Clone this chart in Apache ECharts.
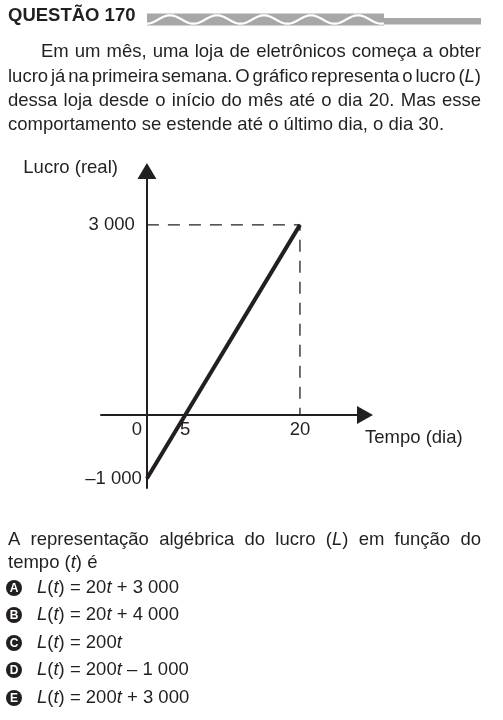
<!DOCTYPE html>
<html>
<head>
<meta charset="utf-8">
<script src="https://cdn.jsdelivr.net/npm/echarts@6/dist/echarts.min.js"></script>
<style>
html,body{margin:0;padding:0;background:#fff;}
#chart{width:503px;height:720px;}
</style>
</head>
<body>
<div id="chart"></div>
<script>
// ---- data ----
const tempo = [0, 20];            // dias
const lucro = [-1000, 3000];      // reais
const xTickValues = [0, 5, 20];
const yTickValues = [-1000, 3000];
const titleText = 'QUESTÃO 170';
const paragraph = [
  'Em um mês, uma loja de eletrônicos começa a obter',
  'lucro já na primeira semana. O gráfico representa o lucro (*L*)',
  'dessa loja desde o início do mês até o dia 20. Mas esse',
  'comportamento se estende até o último dia, o dia 30.'
];
const question = [
  'A representação algébrica do lucro (*L*) em função do',
  'tempo (*t*) é'
];
const optionLetters = ['A', 'B', 'C', 'D', 'E'];
const optionTexts = [
  '*L*(*t*) = 20*t* + 3 000',
  '*L*(*t*) = 20*t* + 4 000',
  '*L*(*t*) = 200*t*',
  '*L*(*t*) = 200*t* – 1 000',
  '*L*(*t*) = 200*t* + 3 000'
];

const FONT = '"Liberation Sans", Arial, Helvetica, sans-serif';
const INK = '#231f20';
const SIZE = 18.5;

const cv = document.createElement('canvas').getContext('2d');
function fontStr(size, italic, bold) {
  return (italic ? 'italic ' : '') + (bold ? 'bold ' : '') + size + 'px ' + FONT;
}
function measure(t, size, italic, bold) {
  cv.font = fontStr(size, italic, bold);
  return cv.measureText(t).width;
}
function textEl(t, x, y, size, italic, bold, fill, align) {
  return {
    type: 'text', x: x, y: y, silent: true,
    style: {
      text: t, font: fontStr(size, italic, bold), fill: fill || INK,
      align: align || 'left', textAlign: align || 'left',
      verticalAlign: 'middle', textVerticalAlign: 'middle'
    }
  };
}
function lineEls(str, x0, x1, y, size, justify) {
  const words = str.split(' ').map(w => {
    const parts = w.split('*').map((p, i) => ({ t: p, it: i % 2 === 1 }))
      .filter(p => p.t.length);
    parts.forEach(p => p.w = measure(p.t, size, p.it, false));
    return { parts: parts, w: parts.reduce((s, p) => s + p.w, 0) };
  });
  const total = words.reduce((s, w) => s + w.w, 0);
  const gap = justify && words.length > 1 ? (x1 - x0 - total) / (words.length - 1)
    : measure(' ', size, false, false);
  const els = [];
  let x = x0;
  words.forEach(w => {
    let px = x;
    w.parts.forEach(p => { els.push(textEl(p.t, px, y, size, p.it, false)); px += p.w; });
    x += w.w + gap;
  });
  return els;
}

// ---- decorative header ----
const graphics = [];
graphics.push(textEl(titleText, 8, 16, SIZE, false, true));
graphics.push({ type: 'rect', silent: true, shape: { x: 147, y: 13.5, width: 237, height: 12 }, style: { fill: '#a7a7a9' } });
graphics.push({ type: 'rect', silent: true, shape: { x: 384, y: 18, width: 97, height: 6.5 }, style: { fill: '#a7a7a9' } });
const wavePts = [];
for (let x = 147; x <= 384; x += 1) {
  wavePts.push([x, 19.5 - 4.2 * Math.cos(2 * Math.PI * (x - 170) / 47)]);
}
graphics.push({ type: 'polyline', silent: true, shape: { points: wavePts }, style: { stroke: '#fff', lineWidth: 2.2, fill: null } });

// ---- text blocks ----
const paraY = [52, 77, 101, 125];
paragraph.forEach((l, i) => {
  graphics.push(...lineEls(l, i === 0 ? 41 : 8, 481, paraY[i], SIZE, i < paragraph.length - 1));
});
const qY = [540, 563];
question.forEach((l, i) => {
  graphics.push(...lineEls(l, 8, 481, qY[i], SIZE, i < question.length - 1));
});
const optY = [588, 615, 643, 670, 698];
optionLetters.forEach((L, i) => {
  graphics.push({ type: 'circle', silent: true, shape: { cx: 14, cy: optY[i], r: 8 }, style: { fill: INK } });
  graphics.push(textEl(L, 14, optY[i] + 0.5, 12, false, true, '#fff', 'center'));
  graphics.push(...lineEls(optionTexts[i], 37, 481, optY[i], SIZE, false));
});

function fmtNum(v) {
  const a = Math.abs(v).toString().replace(/\B(?=(\d{3})+(?!\d))/g, ' ');
  return (v < 0 ? '–' : '') + a;
}

// axis ranges and grid layout
const X_MIN = -6, X_MAX = 28.5, Y_MIN = -1150, Y_MAX = 3850;
const G_LEFT = 101, G_TOP = 171, G_W = 264, G_H = 317;
// offsets that put each axis (with its labels) through the origin
const xAxisOffset = -(0 - Y_MIN) / (Y_MAX - Y_MIN) * G_H;
const yAxisOffset = -(0 - X_MIN) / (X_MAX - X_MIN) * G_W;

const chart = echarts.init(document.getElementById('chart'), null, { renderer: 'canvas' });
chart.setOption({
  animation: false,
  backgroundColor: '#fff',
  graphic: graphics,
  grid: { left: G_LEFT, top: G_TOP, width: G_W, height: G_H, containLabel: false, outerBoundsMode: 'none' },
  xAxis: {
    type: 'value', min: X_MIN, max: X_MAX, position: 'bottom', offset: xAxisOffset,
    name: 'Tempo (dia)', nameLocation: 'end', nameGap: 0,
    nameTextStyle: { color: INK, fontSize: SIZE, fontFamily: FONT, align: 'left', verticalAlign: 'top', padding: [13, 0, 0, 0] },
    axisLine: { onZero: false, lineStyle: { color: INK, width: 2 }, symbol: ['none', 'triangle'], symbolSize: [18, 16] },
    axisTick: { show: false },
    splitLine: { show: false },
    axisLabel: {
      customValues: xTickValues, margin: 5, color: INK, fontSize: SIZE, fontFamily: FONT,
      formatter: v => v === 0 ? '{z|0}' : '{n|' + v + '}',
      rich: {
        z: { fontSize: SIZE, fontFamily: FONT, color: INK, padding: [0, 20, 0, 0] },
        n: { fontSize: SIZE, fontFamily: FONT, color: INK }
      }
    }
  },
  yAxis: {
    type: 'value', min: Y_MIN, max: Y_MAX, position: 'left', offset: yAxisOffset,
    name: 'Lucro (real)', nameLocation: 'end', nameGap: 3,
    nameTextStyle: { color: INK, fontSize: SIZE, fontFamily: FONT, align: 'right', verticalAlign: 'middle', padding: [0, 29, 0, 0] },
    axisLine: { onZero: false, lineStyle: { color: INK, width: 2 }, symbol: ['none', 'triangle'], symbolSize: [19, 16] },
    axisTick: { show: false },
    splitLine: { show: false },
    axisLabel: {
      customValues: yTickValues, margin: 5, color: INK, fontSize: SIZE, fontFamily: FONT,
      formatter: v => v > 0 ? '{p|' + fmtNum(v) + '}' : '{n|' + fmtNum(v) + '}',
      rich: {
        p: { fontSize: SIZE, fontFamily: FONT, color: INK, padding: [0, 7, 0, 0] },
        n: { fontSize: SIZE, fontFamily: FONT, color: INK }
      }
    }
  },
  series: [
    {
      type: 'line', silent: true, showSymbol: false, z: 1,
      data: [[tempo[0], lucro[1]], [tempo[1], lucro[1]], [tempo[1], 0]],
      lineStyle: { color: INK, width: 1.3, type: [12, 9] }
    },
    {
      type: 'line', silent: true, showSymbol: false, z: 3,
      data: tempo.map((t, i) => [t, lucro[i]]),
      lineStyle: { color: INK, width: 4, cap: 'butt' }
    }
  ]
});
</script>
</body>
</html>
